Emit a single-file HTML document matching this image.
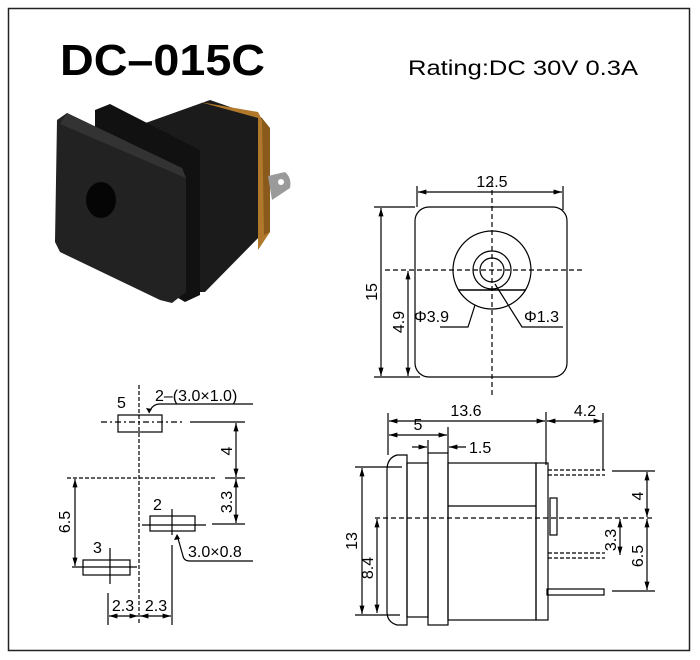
<!DOCTYPE html>
<html><head><meta charset="utf-8"><style>
html,body{margin:0;padding:0;background:#fff;}
svg{display:block;font-family:"Liberation Sans",Arial,sans-serif;}
</style></head><body>
<svg width="700" height="660" viewBox="0 0 700 660" xmlns="http://www.w3.org/2000/svg">
<defs>
<marker id="a" viewBox="0 0 10 10" refX="10" refY="5" markerWidth="7" markerHeight="7" orient="auto-start-reverse"><path d="M0,2 L10,5 L0,8 z" fill="#000"/></marker>
</defs>
<rect x="0" y="0" width="700" height="660" fill="#fff"/>
<rect x="8.5" y="8.5" width="681" height="642" fill="none" stroke="#222" stroke-width="1.5"/>
<text x="60" y="75" font-size="44" font-weight="bold" textLength="205" lengthAdjust="spacingAndGlyphs">DC–015C</text>
<text x="408" y="75" font-size="21" textLength="230" lengthAdjust="spacingAndGlyphs">Rating:DC 30V 0.3A</text>

<!-- photo -->
<g>
<polygon points="140,125 210,100 262,118 264,232 205,292 185,292" fill="#1b1b1b"/>
<polygon points="200,102 258,112 270,135 270,232 258,250 258,118" fill="#b0782a"/>
<polygon points="262,118 270,128 270,232 264,235" fill="#8a5a1c"/>
<path d="M268,176 L285,172 Q292,178 290,188 L272,200 Z" fill="#9a9a9a"/>
<circle cx="281" cy="182" r="3" fill="#fff"/>
<polygon points="95,110 110,104 200,150 200,295 185,302 95,250" fill="#111"/>
<polygon points="57,120 67,113 182,168 186,178 186,292 172,303 160,300 60,252 55,242" fill="#222"/>
<polygon points="67,113 182,168 186,178 60,124" fill="#333"/>
<ellipse cx="101" cy="200" rx="15" ry="18" fill="#050505"/>
</g>

<g stroke="#000" fill="none" stroke-width="1.2">
<!-- front view -->
<rect x="415" y="207" width="152" height="170" rx="14"/>
<circle cx="492" cy="270" r="39"/>
<circle cx="492" cy="270" r="19"/>
<circle cx="492" cy="270" r="12"/>
<line x1="458" y1="290" x2="526" y2="290" stroke-width="1.6"/>
<line x1="385" y1="270" x2="585" y2="270" stroke-dasharray="5,3"/>
<line x1="492" y1="182" x2="492" y2="395" stroke-dasharray="5,3"/>
<line x1="417" y1="186" x2="417" y2="207"/><line x1="563" y1="186" x2="563" y2="210"/>
<line x1="418" y1="192" x2="562" y2="192" marker-start="url(#a)" marker-end="url(#a)"/>
<line x1="374" y1="207" x2="415" y2="207"/><line x1="374" y1="377" x2="420" y2="377"/>
<line x1="381" y1="208" x2="381" y2="376" marker-start="url(#a)" marker-end="url(#a)"/>
<line x1="408" y1="271" x2="408" y2="376" marker-start="url(#a)" marker-end="url(#a)"/>
<polyline points="475,305 468,327 440,327"/>
<polyline points="495,284 522,327 563,327"/>

<!-- side view -->
<path d="M407,455 L397,455 Q387,458 387,470 L387,612 Q387,622 397,625 L407,625 Z"/>
<rect x="407" y="463" width="21" height="154"/>
<rect x="428" y="453" width="20" height="172"/>
<rect x="448" y="463" width="88" height="157"/>
<rect x="536" y="463" width="12" height="157"/>
<line x1="448" y1="506" x2="536" y2="506"/>
<line x1="375" y1="518" x2="655" y2="518" stroke-dasharray="5,3"/>
<line x1="548" y1="470" x2="605" y2="470" stroke-dasharray="4,2"/>
<line x1="548" y1="475" x2="605" y2="475" stroke-dasharray="4,2"/>
<rect x="550" y="498" width="7" height="37"/>
<line x1="548" y1="553" x2="605" y2="553" stroke-dasharray="4,2"/>
<line x1="548" y1="558" x2="605" y2="558" stroke-dasharray="4,2"/>
<rect x="547" y="589" width="57" height="6"/>
<line x1="388" y1="413" x2="388" y2="455"/><line x1="546" y1="412" x2="546" y2="465"/>
<line x1="603" y1="413" x2="603" y2="470"/><line x1="448" y1="427" x2="448" y2="453"/><line x1="428" y1="440" x2="428" y2="453"/>
<line x1="389" y1="421" x2="545" y2="421" marker-start="url(#a)" marker-end="url(#a)"/>
<line x1="547" y1="421" x2="602" y2="421" marker-start="url(#a)" marker-end="url(#a)"/>
<line x1="389" y1="435" x2="447" y2="435" marker-start="url(#a)" marker-end="url(#a)"/>
<line x1="412" y1="447" x2="427" y2="447" marker-end="url(#a)"/>
<line x1="466" y1="447" x2="449" y2="447" marker-end="url(#a)"/>
<line x1="355" y1="467" x2="402" y2="467"/><line x1="355" y1="615" x2="400" y2="615"/>
<line x1="362" y1="468" x2="362" y2="614" marker-start="url(#a)" marker-end="url(#a)"/>
<line x1="377" y1="519" x2="377" y2="613" marker-start="url(#a)" marker-end="url(#a)"/>
<line x1="612" y1="471" x2="655" y2="471"/><line x1="612" y1="591" x2="655" y2="591"/>
<line x1="647" y1="472" x2="647" y2="517" marker-start="url(#a)" marker-end="url(#a)"/>
<line x1="647" y1="519" x2="647" y2="590" marker-start="url(#a)" marker-end="url(#a)"/>
<line x1="620" y1="519" x2="620" y2="555" marker-start="url(#a)" marker-end="url(#a)"/>

<!-- footprint -->
<line x1="139" y1="385" x2="139" y2="625" stroke-dasharray="4,2"/>
<rect x="118" y="415" width="44" height="17"/>
<line x1="101" y1="422" x2="182" y2="422" stroke-dasharray="6,3,2,3"/>
<line x1="190" y1="422" x2="245" y2="422"/>
<path d="M149,413 Q152,404 160,404 L253,404"/>
<line x1="67" y1="478" x2="215" y2="478" stroke-dasharray="4,2"/>
<line x1="225" y1="478" x2="245" y2="478"/>
<line x1="236" y1="423" x2="236" y2="477" marker-start="url(#a)" marker-end="url(#a)"/>
<line x1="236" y1="479" x2="236" y2="523" marker-start="url(#a)" marker-end="url(#a)"/>
<line x1="212" y1="524" x2="245" y2="524"/>
<rect x="150" y="516" width="45" height="15"/>
<line x1="142" y1="525" x2="206" y2="525"/>
<line x1="172" y1="509" x2="172" y2="535"/>
<path d="M177,535 L183,556 Q184,561 190,561 L253,561"/>
<line x1="172" y1="545" x2="172" y2="625"/>
<rect x="83" y="560" width="47" height="15"/>
<line x1="72" y1="567" x2="137" y2="567"/>
<line x1="110" y1="548" x2="110" y2="584"/>
<line x1="75" y1="479" x2="75" y2="566" marker-start="url(#a)" marker-end="url(#a)"/>
<line x1="108" y1="593" x2="108" y2="625"/>
<line x1="109" y1="616" x2="138" y2="616" marker-start="url(#a)" marker-end="url(#a)"/>
<line x1="140" y1="616" x2="171" y2="616" marker-start="url(#a)" marker-end="url(#a)"/>
</g>
<path d="M149,413 l-3,-5 l6,1 z" fill="#000"/>
<path d="M177,534 l-3,6 l6,-1 z" fill="#000"/>

<g font-size="16" fill="#000">
<text x="492" y="187" text-anchor="middle">12.5</text>
<text transform="translate(377,292) rotate(-90)" text-anchor="middle">15</text>
<text transform="translate(404,322) rotate(-90)" text-anchor="middle">4.9</text>
<text x="414" y="322">Φ3.9</text>
<text x="524" y="322">Φ1.3</text>
<text x="466" y="416" text-anchor="middle">13.6</text>
<text x="585" y="416" text-anchor="middle">4.2</text>
<text x="418" y="430" text-anchor="middle">5</text>
<text x="469" y="453">1.5</text>
<text transform="translate(357,541) rotate(-90)" text-anchor="middle">13</text>
<text transform="translate(373,568) rotate(-90)" text-anchor="middle">8.4</text>
<text transform="translate(643,496) rotate(-90)" text-anchor="middle">4</text>
<text transform="translate(643,556) rotate(-90)" text-anchor="middle">6.5</text>
<text transform="translate(616,540) rotate(-90)" text-anchor="middle">3.3</text>
<text x="117" y="408">5</text>
<text x="155" y="401">2–(3.0×1.0)</text>
<text transform="translate(232,451) rotate(-90)" text-anchor="middle">4</text>
<text transform="translate(232,502) rotate(-90)" text-anchor="middle">3.3</text>
<text x="153" y="510">2</text>
<text x="188" y="557">3.0×0.8</text>
<text x="93" y="553">3</text>
<text transform="translate(70,522) rotate(-90)" text-anchor="middle">6.5</text>
<text x="123" y="611" text-anchor="middle">2.3</text>
<text x="156" y="611" text-anchor="middle">2.3</text>
</g>
</svg>
</body></html>
